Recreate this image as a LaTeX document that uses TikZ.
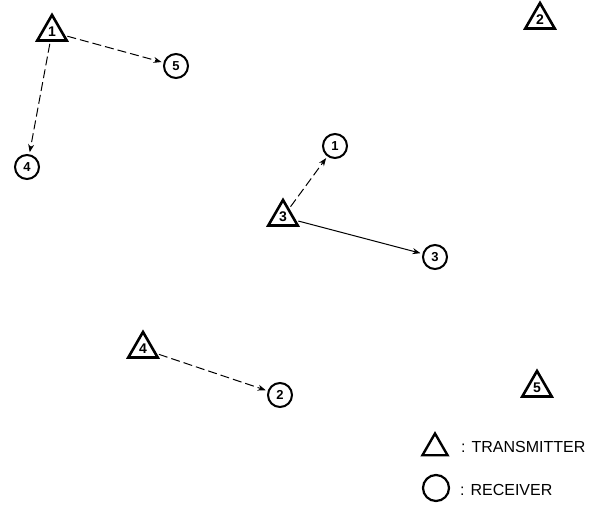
\documentclass[tikz,border=0pt]{standalone}
\usepackage{fontspec}
\setmainfont{Liberation Sans}
\usetikzlibrary{shapes.geometric,arrows.meta}
\begin{document}
\begin{tikzpicture}[x=1pt,y=-1pt,
  tx/.style={regular polygon,regular polygon sides=3,draw,line width=2.6pt,minimum size=34pt,inner sep=0pt,font=\fontsize{14}{14}\selectfont\bfseries},
  rx/.style={circle,draw,line width=2pt,minimum size=24pt,inner sep=0pt,font=\fontsize{13}{13}\selectfont\bfseries},
  link/.style={line width=1pt,-{Stealth[length=8pt,width=6pt]},shorten <=2pt,shorten >=2pt},
  dlink/.style={link,dash pattern=on 9pt off 4pt},
  lbl/.style={anchor=base west,inner sep=0pt,font=\fontsize{16}{16}\selectfont}]
\useasboundingbox (0,0) rectangle (592,506);
% transmitters
\node[tx] (t1) at (52,32) {\raisebox{-2pt}{1}};
\node[tx] (t2) at (540,20) {\raisebox{-2pt}{2}};
\node[tx] (t3) at (283,217) {\raisebox{-2pt}{3}};
\node[tx] (t4) at (143,349) {\raisebox{-2pt}{4}};
\node[tx] (t5) at (537,388) {\raisebox{-2pt}{5}};
% receivers
\node[rx] (r1) at (335,146) {1};
\node[rx] (r2) at (280,395) {2};
\node[rx] (r3) at (435,257) {3};
\node[rx] (r4) at (27,167) {4};
\node[rx] (r5) at (176,66) {5};
% links
\draw[dlink] (t1) -- (r5);
\draw[dlink] (t1) -- (r4);
\draw[dlink] (t3) -- (r1);
\draw[link] (t3) -- (r3);
\draw[dlink] (t4) -- (r2);
% legend
\node[regular polygon,regular polygon sides=3,draw,line width=2.4pt,minimum size=29pt,inner sep=0pt] (lt) at (435,448) {};
\node[circle,draw,line width=2.2pt,minimum size=26pt,inner sep=0pt] (lc) at (436,488) {};
\node[lbl] (ltx) at (461,452) {: TRANSMITTER};
\node[lbl] (lrx) at (460,495) {: RECEIVER};
\end{tikzpicture}
\end{document}
